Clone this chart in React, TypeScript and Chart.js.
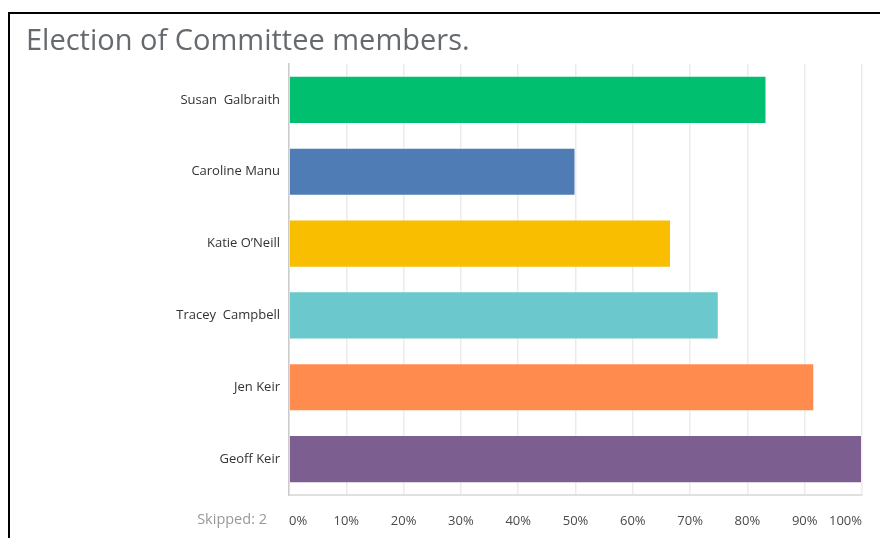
import React, { useEffect, useRef } from "react";
import { Chart, registerables } from "chart.js";

Chart.register(...registerables);

const categories = [
  "Susan  Galbraith",
  "Caroline Manu",
  "Katie O\u2019Neill",
  "Tracey  Campbell",
  "Jen Keir",
  "Geoff Keir",
];
const values = [83.33, 50, 66.67, 75, 91.67, 100];
const barColors = ["#00BF6F", "#507CB6", "#F9BE00", "#6BC8CD", "#FF8B4F", "#7D5E90"];
const titleText = "Election of Committee members.";
const skippedText = "Skipped: 2";

const overlayPlugin = {
  id: "overlayText",
  afterDraw(chart: any) {
    const ctx = chart.ctx;
    ctx.save();
    ctx.fillStyle = "#666a6e";
    ctx.font = "400 29px 'Open Sans'";
    ctx.textAlign = "left";
    ctx.textBaseline = "middle";
    ctx.fillText(titleText, 26, 42);
    ctx.fillStyle = "#999999";
    ctx.font = "400 14.5px 'Open Sans'";
    ctx.textAlign = "right";
    ctx.fillText(skippedText, 267, 520);
    ctx.restore();
  },
};

export default function App() {
  const ref = useRef<HTMLCanvasElement | null>(null);
  useEffect(() => {
    if (!ref.current) return;
    const chart = new Chart(ref.current, {
      type: "bar",
      data: {
        labels: categories,
        datasets: [
          {
            data: values,
            backgroundColor: barColors,
            borderColor: "rgba(255,255,255,0.35)",
            borderWidth: 1,
            categoryPercentage: 1,
            barPercentage: 0.67,
          },
        ],
      },
      options: {
        indexAxis: "y",
        animation: false,
        responsive: false,
        maintainAspectRatio: false,
        layout: { padding: { top: 64, right: 18, left: 0, bottom: 0 } },
        plugins: {
          legend: { display: false },
          tooltip: { enabled: false },
        },
        scales: {
          x: {
            min: 0,
            max: 100,
            ticks: {
              stepSize: 10,
              align: "inner",
              padding: 18,
              color: "#4a4a4a",
              font: { family: "'Open Sans'", size: 13, weight: "500" },
              callback: (v: any) => v + "%",
            },
            grid: { color: "#ebebeb", lineWidth: 1.5, drawTicks: false },
            border: { color: "#e0e0e0", width: 2 },
            afterFit: (s: any) => {
              s.height = 43;
            },
          },
          y: {
            ticks: {
              padding: 9,
              color: "#333",
              font: { family: "'Open Sans'", size: 13, weight: "500" },
            },
            grid: { display: false, drawTicks: false },
            border: { color: "#cccccc", width: 1.5 },
            afterFit: (s: any) => {
              s.width = 289;
            },
          },
        },
      },
      plugins: [overlayPlugin],
    });
    return () => chart.destroy();
  }, []);
  return (
    <div style={{ position: "absolute", left: 0, top: 0, width: 880, height: 538, background: "#fff" }}>
      <div
        style={{
          position: "absolute",
          left: 8,
          top: 12,
          width: 872,
          height: 526,
          borderTop: "2px solid #000",
          borderLeft: "2px solid #000",
          boxSizing: "border-box",
        }}
      />
      <canvas ref={ref} width={880} height={538} style={{ position: "absolute", left: 0, top: 0 }} />
    </div>
  );
}
